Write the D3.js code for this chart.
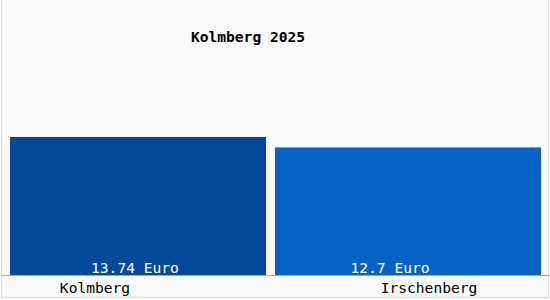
<!doctype html>
<html>
<head>
<meta charset="UTF-8">
<title>Kolmberg 2025</title>
<script src="https://d3js.org/d3.v7.min.js"></script>
<style>
  body { margin: 0; background: #fff; }
  text { font-family: "DejaVu Sans Mono", monospace; }
</style>
</head>
<body>
<script>
// daten
var categories = ["Kolmberg", "Irschenberg"];
var values = [13.74, 12.7];
var valueLabels = ["13.74 Euro", "12.7 Euro"];
var title = "Kolmberg 2025";

var w = 550, h = 300;
var base = 275;
var right = 541;
var colors = ["#03499a", "#0563c8"];
// kleine Verschiebungen der Beschriftungen wie im Original
var valShift = [-3, -18];
var catShift = [-43, 21];

var svg = d3.select("body").append("svg")
    .attr("width", w)
    .attr("height", h);

// rahmen
svg.append("rect")
    .attr("x", 1.5).attr("y", -2)
    .attr("width", w - 3).attr("height", h - 0.5)
    .attr("fill", "#f9f9f9")
    .attr("stroke", "#d8d8d8");

var x = d3.scaleBand()
    .domain(categories)
    .range([10, 531])
    .paddingInner(0.034);

var y = d3.scaleLinear()
    .domain([0, 22.4])
    .range([base, 50]);

// letzter balken geht bis zum rechten rand
function barW(i) {
    if (i == categories.length - 1) return right - x(categories[i]);
    return x.bandwidth();
}

svg.selectAll("rect.bar")
    .data(values)
    .enter().append("rect")
    .attr("class", "bar")
    .attr("x", function(d, i) { return x(categories[i]); })
    .attr("y", function(d) { return y(d); })
    .attr("width", function(d, i) { return barW(i); })
    .attr("height", function(d) { return base - y(d); })
    .attr("fill", function(d, i) { return colors[i]; });

// grundlinie
svg.append("line")
    .attr("x1", 1).attr("x2", w - 1)
    .attr("y1", base + 0.5).attr("y2", base + 0.5)
    .attr("stroke", "#a8a8a8");

svg.selectAll("text.val")
    .data(valueLabels)
    .enter().append("text")
    .attr("class", "val")
    .attr("x", function(d, i) { return x(categories[i]) + barW(i) / 2 + valShift[i]; })
    .attr("y", 273)
    .attr("text-anchor", "middle")
    .attr("font-size", 14.6)
    .attr("fill", "#fff")
    .text(function(d) { return d; });

svg.selectAll("text.cat")
    .data(categories)
    .enter().append("text")
    .attr("class", "cat")
    .attr("x", function(d, i) { return x(d) + barW(i) / 2 + catShift[i]; })
    .attr("y", 293)
    .attr("text-anchor", "middle")
    .attr("font-size", 14.6)
    .attr("fill", "#000")
    .text(function(d) { return d; });

svg.append("text")
    .attr("x", 248)
    .attr("y", 42)
    .attr("text-anchor", "middle")
    .attr("font-size", 14.6)
    .attr("font-weight", "bold")
    .attr("fill", "#000")
    .text(title);
</script>
</body>
</html>
